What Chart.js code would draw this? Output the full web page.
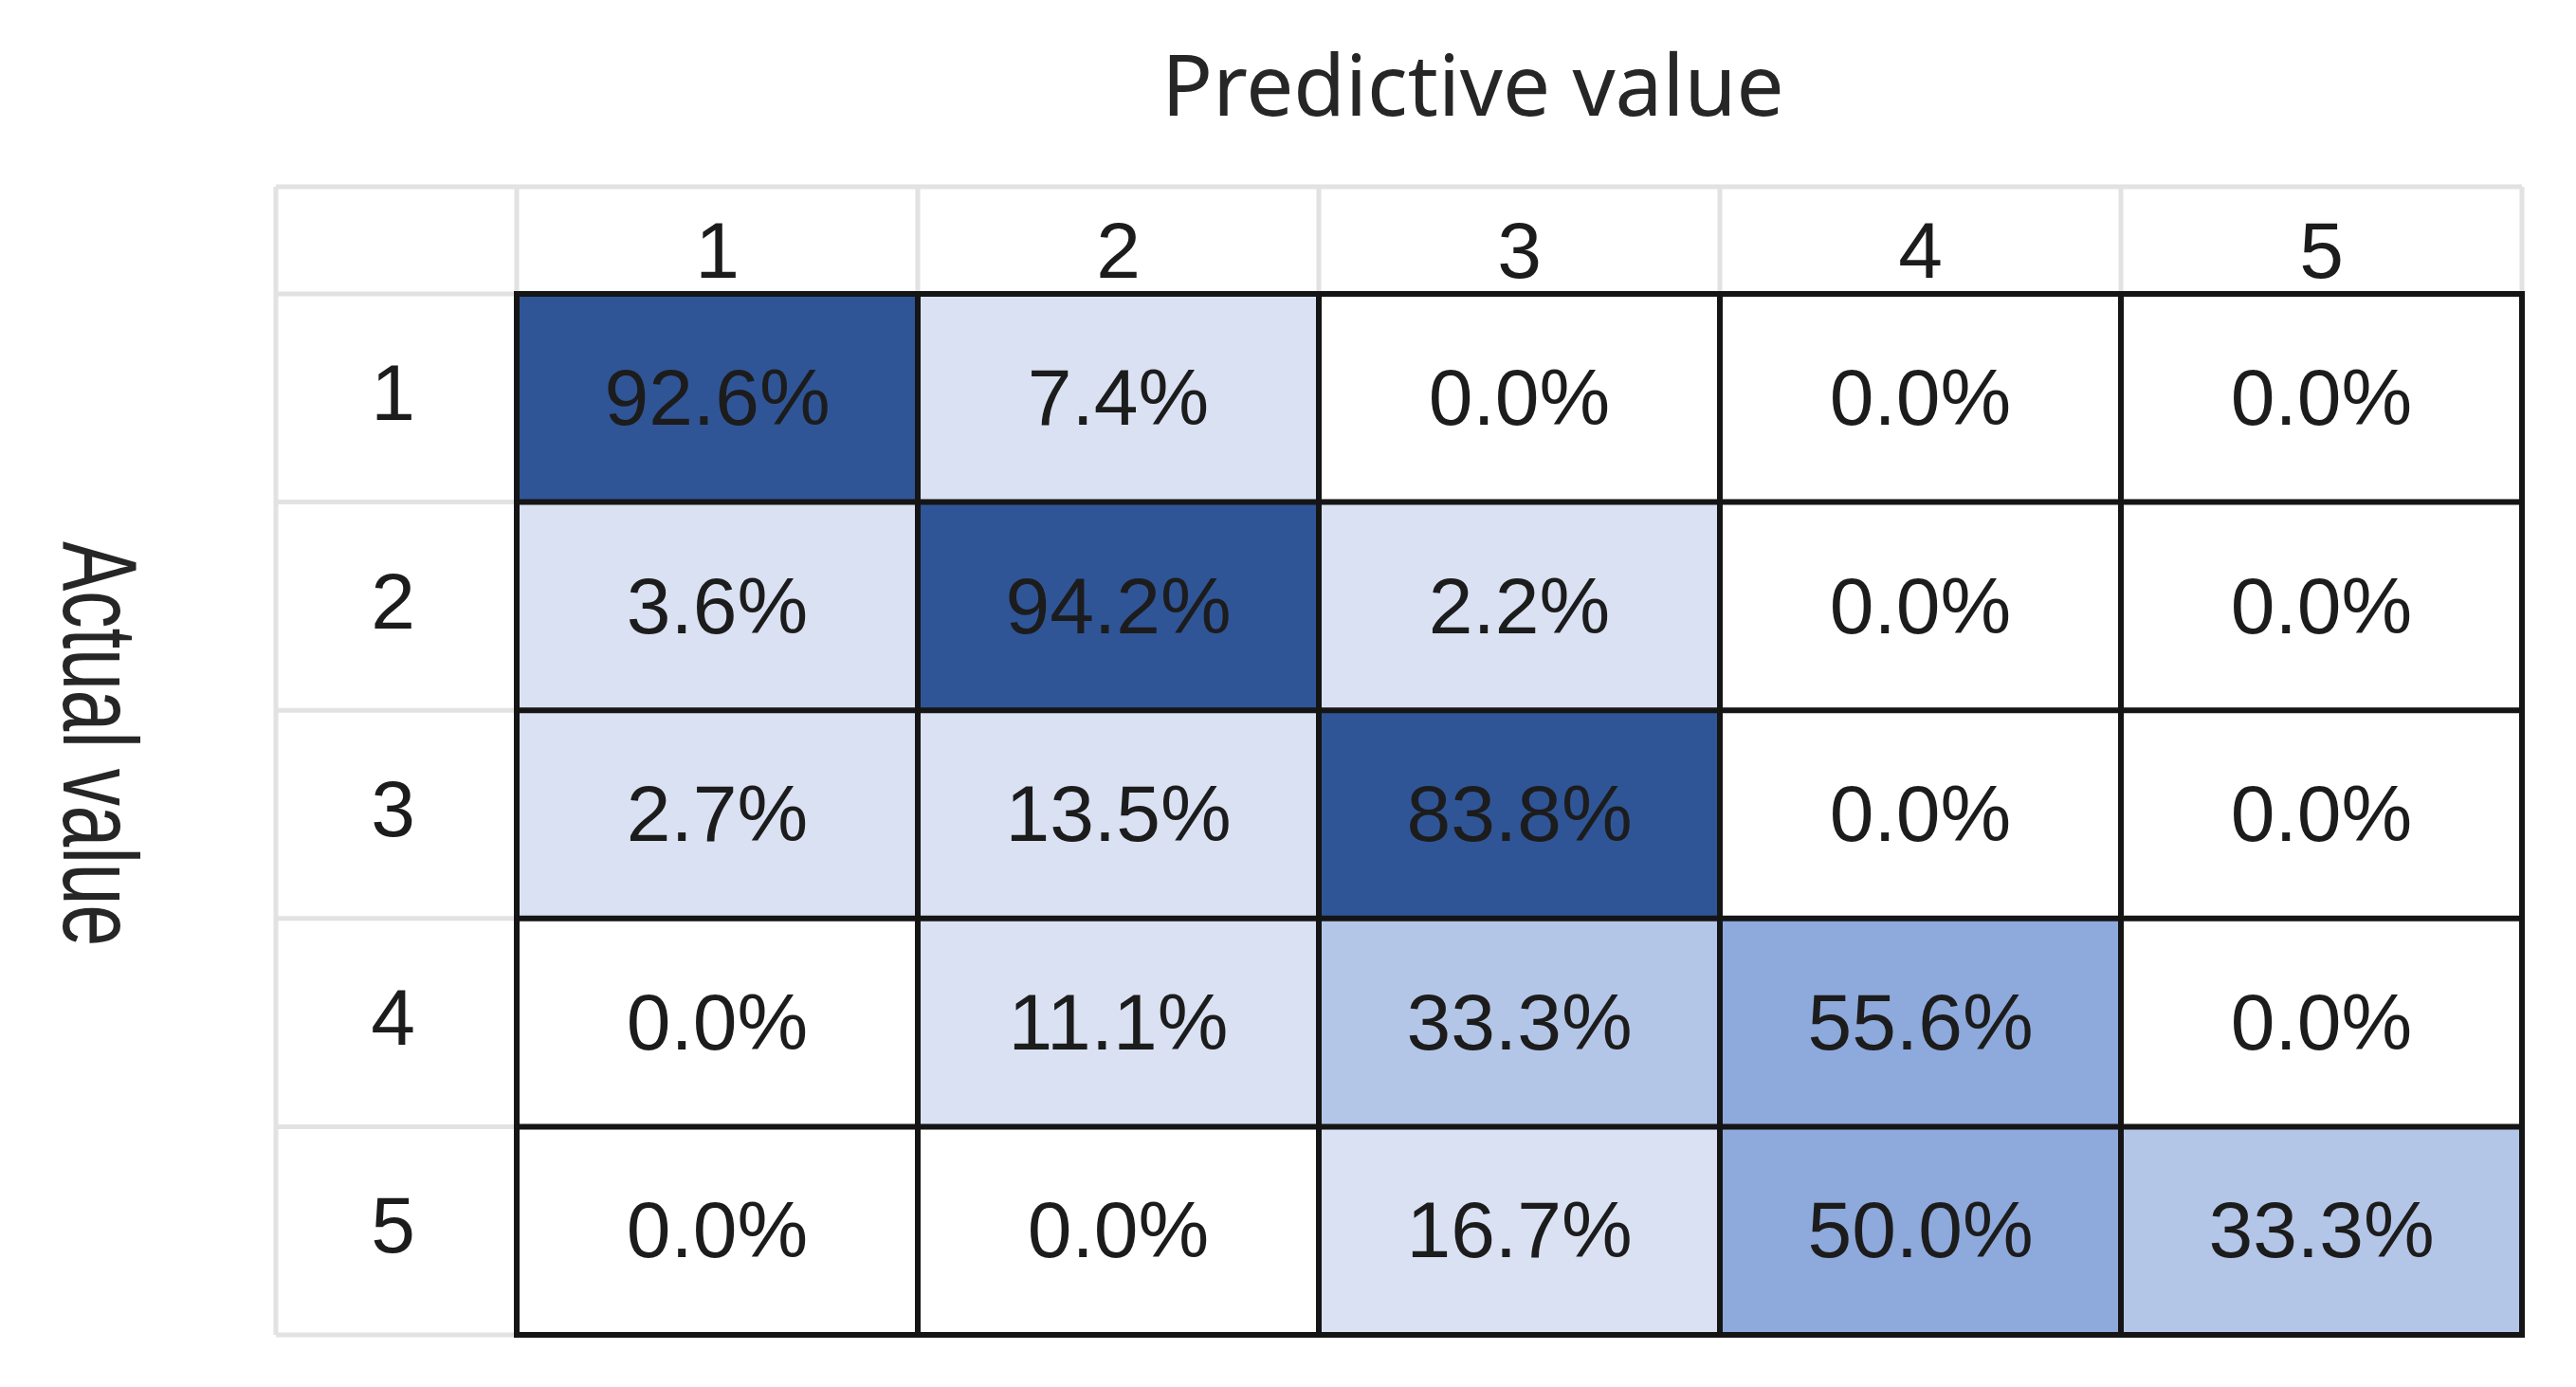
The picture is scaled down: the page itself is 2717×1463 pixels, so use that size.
<!DOCTYPE html>
<html>
<head>
<meta charset="utf-8">
<script src="https://cdn.jsdelivr.net/npm/chart.js@4.4.1/dist/chart.umd.min.js"></script>
<style>
  html, body { margin: 0; padding: 0; background: #fff; }
  #wrap { width: 2717px; height: 1463px; }
</style>
</head>
<body>
<div id="wrap"><canvas id="confusion"></canvas></div>
<script>
// labels
predictedLabels = ['1', '2', '3', '4', '5']
actualLabels = ['1', '2', '3', '4', '5']

// one array per actual class (row), values in %
actual1 = [92.6, 7.4, 0.0, 0.0, 0.0]
actual2 = [3.6, 94.2, 2.2, 0.0, 0.0]
actual3 = [2.7, 13.5, 83.8, 0.0, 0.0]
actual4 = [0.0, 11.1, 33.3, 55.6, 0.0]
actual5 = [0.0, 0.0, 16.7, 50.0, 33.3]

var rows = [actual1, actual2, actual3, actual4, actual5];

function cellColor(v) {
    if (v <= 0) return '#ffffff';
    if (v < 20) return '#D9E1F2';
    if (v < 50) return '#B4C6E7';
    if (v < 80) return '#8EA9DB';
    return '#2F5597';
}

// one dataset per predicted column, each bar spans its column on the x scale
var datasets = predictedLabels.map(function (p, c) {
    return {
        label: 'Predicted ' + p,
        data: actualLabels.map(function () { return [c, c + 1]; }),
        backgroundColor: actualLabels.map(function (a, r) { return cellColor(rows[r][c]); }),
        borderWidth: 0,
        barPercentage: 1,
        categoryPercentage: 1,
        grouped: false
    };
});

var textColor = '#1c1c1c';
var cellFont = '84px "Liberation Sans", Arial, sans-serif';

var tablePlugin = {
    id: 'tablePlugin',
    bounds: function (chart) {
        var xs = chart.scales.x, ys = chart.scales.y;
        var colX = [ys.left];
        for (var c = 0; c <= predictedLabels.length; c++) colX.push(xs.getPixelForValue(c));
        var rowH = (ys.bottom - ys.top) / actualLabels.length;
        var rowY = [xs.top];
        for (var r = 0; r < actualLabels.length; r++) rowY.push(ys.getPixelForValue(r) - rowH / 2);
        rowY.push(ys.bottom);
        return { colX: colX, rowY: rowY };
    },
    beforeDatasetsDraw: function (chart) {
        var b = this.bounds(chart), ctx = chart.ctx;
        ctx.save();
        ctx.strokeStyle = '#e2e2e2';
        ctx.lineWidth = 5;
        ctx.beginPath();
        b.colX.forEach(function (x) {
            ctx.moveTo(x, b.rowY[0]); ctx.lineTo(x, b.rowY[b.rowY.length - 1]);
        });
        b.rowY.forEach(function (y) {
            ctx.moveTo(b.colX[0], y); ctx.lineTo(b.colX[b.colX.length - 1], y);
        });
        ctx.stroke();
        ctx.restore();
    },
    afterDatasetsDraw: function (chart) {
        var b = this.bounds(chart), ctx = chart.ctx;
        ctx.save();
        // black cell borders
        ctx.strokeStyle = '#151515';
        ctx.lineWidth = 6;
        ctx.lineCap = 'square';
        ctx.beginPath();
        for (var i = 1; i < b.colX.length; i++) {
            ctx.moveTo(b.colX[i], b.rowY[1]); ctx.lineTo(b.colX[i], b.rowY[b.rowY.length - 1]);
        }
        for (var j = 1; j < b.rowY.length; j++) {
            ctx.moveTo(b.colX[1], b.rowY[j]); ctx.lineTo(b.colX[b.colX.length - 1], b.rowY[j]);
        }
        ctx.stroke();

        // percentages
        ctx.fillStyle = textColor;
        ctx.font = cellFont;
        ctx.textAlign = 'center';
        ctx.textBaseline = 'middle';
        chart.data.datasets.forEach(function (ds, c) {
            chart.getDatasetMeta(c).data.forEach(function (el, r) {
                var pt = el.getCenterPoint();
                ctx.fillText(rows[r][c].toFixed(1) + '%', pt.x, pt.y + 5);
            });
        });
        ctx.restore();
    },
    afterDraw: function (chart) {
        var b = this.bounds(chart), ctx = chart.ctx;
        ctx.save();
        ctx.fillStyle = '#262626';
        ctx.textAlign = 'center';
        ctx.textBaseline = 'alphabetic';
        ctx.font = '89px "Noto Sans", "Liberation Sans", sans-serif';
        ctx.fillText('Predictive value', (b.colX[0] + b.colX[b.colX.length - 1]) / 2 + 78, b.rowY[0] - 75);

        // vertical title, reads top to bottom
        ctx.translate(98, (b.rowY[0] + b.rowY[b.rowY.length - 1]) / 2 - 18);
        ctx.rotate(Math.PI / 2);
        ctx.scale(0.7, 1);
        ctx.textBaseline = 'middle';
        ctx.font = '112px "Liberation Sans", Arial, sans-serif';
        ctx.fillText('Actual value', 0, 0);
        ctx.restore();
    }
};

var ctx = document.getElementById('confusion').getContext('2d');

var myChart = new Chart(ctx, {
    type: 'bar',
    data: {
        labels: actualLabels,
        datasets: datasets
    },
    options: {
        indexAxis: 'y',
        responsive: true,
        maintainAspectRatio: false,
        devicePixelRatio: 1,
        animation: false,
        events: [],
        layout: {
            padding: { left: 291, top: 197, right: 57, bottom: 55 }
        },
        plugins: {
            legend: { display: false },
            tooltip: { enabled: false }
        },
        scales: {
            x: {
                type: 'linear',
                position: 'top',
                min: 0,
                max: predictedLabels.length,
                afterBuildTicks: function (axis) {
                    axis.ticks = predictedLabels.map(function (l, i) { return { value: i + 0.5 }; });
                },
                afterFit: function (axis) {
                    axis.height = 113;
                    axis.paddingLeft = 0; axis.paddingRight = 0;
                    axis.paddingTop = 0; axis.paddingBottom = 0;
                },
                ticks: {
                    autoSkip: false,
                    maxRotation: 0,
                    padding: -10,
                    color: textColor,
                    font: { family: '"Liberation Sans", Arial, sans-serif', size: 84 },
                    callback: function (val, idx) { return predictedLabels[idx]; }
                },
                grid: { display: false, drawTicks: false },
                border: { display: false }
            },
            y: {
                type: 'category',
                offset: true,
                afterFit: function (axis) {
                    axis.width = 254;
                    axis.paddingLeft = 0; axis.paddingRight = 0;
                    axis.paddingTop = 0; axis.paddingBottom = 0;
                },
                ticks: {
                    crossAlign: 'center',
                    padding: 107,
                    color: textColor,
                    font: { family: '"Liberation Sans", Arial, sans-serif', size: 84 }
                },
                grid: { display: false, drawTicks: false },
                border: { display: false }
            }
        }
    },
    plugins: [tablePlugin]
});
</script>
</body>
</html>
